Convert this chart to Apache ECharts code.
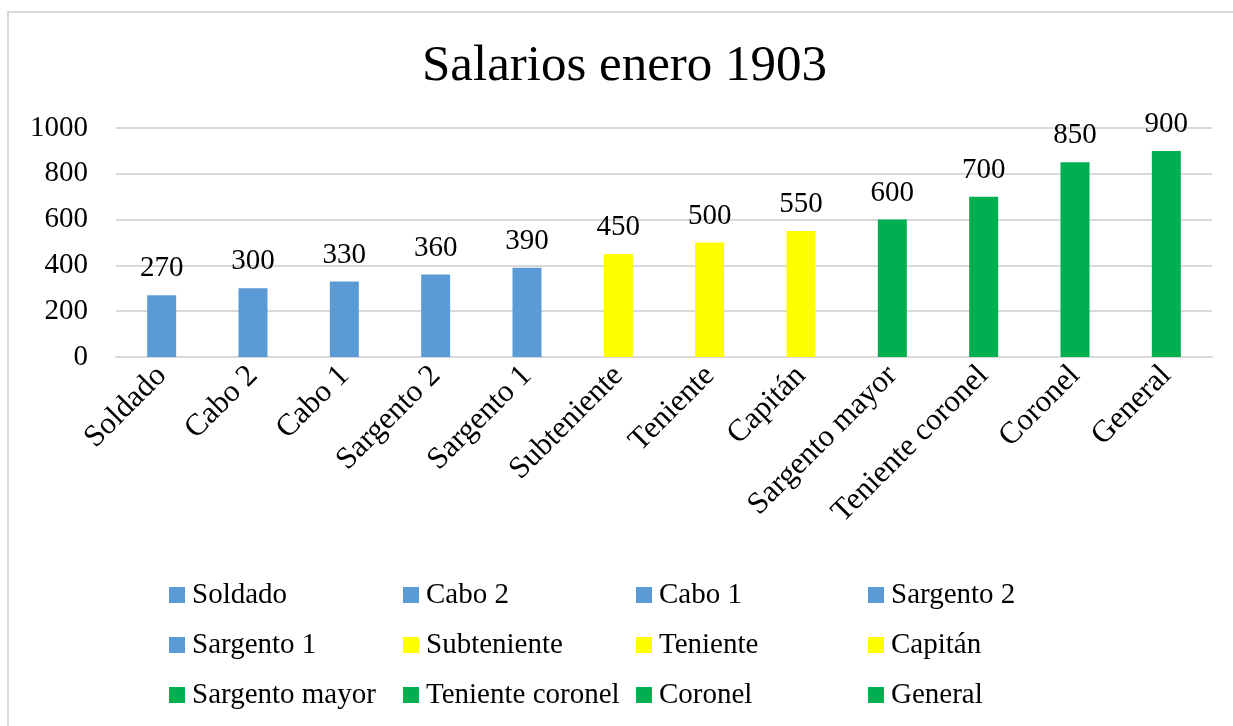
<!DOCTYPE html>
<html>
<head>
<meta charset="utf-8">
<script src="https://cdn.jsdelivr.net/npm/echarts@6/dist/echarts.min.js"></script>
<style>
  html, body { margin: 0; padding: 0; background: #fff; }
  #chart { width: 1233px; height: 726px; }
</style>
</head>
<body>
<div id="chart"></div>
<script>
'use strict'
var categories = ['Soldado', 'Cabo 2', 'Cabo 1', 'Sargento 2', 'Sargento 1', 'Subteniente',
    'Teniente', 'Capitán', 'Sargento mayor', 'Teniente coronel', 'Coronel', 'General'];
var salaries = [270, 300, 330, 360, 390, 450, 500, 550, 600, 700, 850, 900];
var rankGroup = ['tropa', 'tropa', 'tropa', 'tropa', 'tropa', 'oficial', 'oficial', 'oficial',
    'jefe', 'jefe', 'jefe', 'jefe'];
var groupColors = { tropa: '#5b9bd5', oficial: '#ffff00', jefe: '#00b050' };
var yTicks = [0, 200, 400, 600, 800, 1000];

var font = 'Liberation Serif';
var salaries_chart = echarts.init(document.getElementById('chart'));

// one series per rank so each gets its own legend entry; bars overlap with barGap -100%
var series = categories.map(function (name, i) {
    var data = categories.map(function (c, j) { return j === i ? salaries[i] : '-'; });
    return {
        name: name,
        type: 'bar',
        data: data,
        barWidth: 29,
        barGap: '-100%',
        itemStyle: { color: groupColors[rankGroup[i]] },
        label: {
            show: true,
            position: 'top',
            distance: 12,
            color: '#000',
            fontFamily: font,
            fontSize: 29
        }
    };
});

// legend laid out as 4 columns, 3 rows
var legendText = { fontFamily: font, fontSize: 29, color: '#000', lineHeight: 30, padding: [0, 0, 0, 2] };
var legends = [0, 1, 2, 3].map(function (col) {
    var names = [];
    for (var k = col; k < categories.length; k += 4) names.push(categories[k]);
    return {
        orient: 'vertical',
        left: [164, 398, 631, 863][col],
        top: 575,
        itemWidth: 16,
        itemHeight: 16,
        itemGap: 20,
        icon: 'rect',
        selectedMode: false,
        textStyle: legendText,
        data: names
    };
});

var option = {
    animation: false,
    textStyle: { fontFamily: font },
    title: {
        text: 'Salarios enero 1903',
        left: 417,
        top: 36,
        textStyle: { fontFamily: font, fontSize: 51, fontWeight: 'normal', color: '#000' }
    },
    legend: legends,
    grid: {
        left: 116,
        right: 21,
        top: 128,
        bottom: 369,
        containLabel: false
    },
    xAxis: {
        type: 'category',
        data: categories,
        axisLine: { lineStyle: { color: '#d9d9d9', width: 2 } },
        axisTick: { show: false },
        axisLabel: {
            rotate: 45,
            interval: 0,
            margin: 14,
            color: '#000',
            fontFamily: font,
            fontSize: 31
        }
    },
    yAxis: {
        type: 'value',
        min: yTicks[0],
        max: yTicks[yTicks.length - 1],
        interval: yTicks[1] - yTicks[0],
        axisLine: { show: false },
        axisTick: { show: false },
        splitLine: { lineStyle: { color: '#d9d9d9', width: 2 } },
        axisLabel: {
            margin: 28,
            color: '#000',
            fontFamily: font,
            fontSize: 29,
            formatter: function (v) { return String(v); }
        }
    },
    graphic: [
        { type: 'line', shape: { x1: 7, y1: 12, x2: 1233, y2: 12 }, style: { stroke: '#d9d9d9', lineWidth: 2 } },
        { type: 'line', shape: { x1: 8, y1: 11, x2: 8, y2: 726 }, style: { stroke: '#d9d9d9', lineWidth: 2 } }
    ],
    series: series
};

salaries_chart.setOption(option);
</script>
</body>
</html>
